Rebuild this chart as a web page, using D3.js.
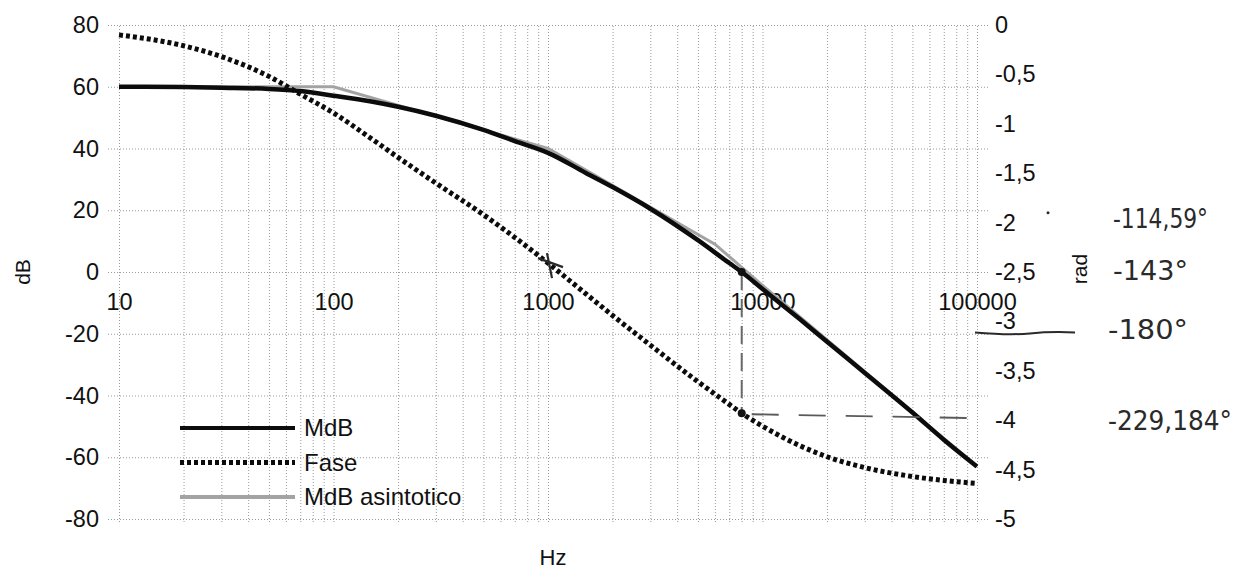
<!DOCTYPE html>
<html>
<head>
<meta charset="utf-8">
<script src="https://cdn.jsdelivr.net/npm/d3@7"></script>
<style>
	body { margin: 0; background: #fff; }
	svg text { font-family: 'Liberation Sans', Arial, sans-serif; fill: #111; }
	.grid line { stroke: #9a9a9a; stroke-width: 1; stroke-dasharray: 1,2; }
	.grid path { display: none; }
</style>
</head>
<body>
<div id="chart"></div>
<script>
// values
const frequencies = [10, 20, 30, 50, 70, 100, 150, 200, 300, 500, 700, 1000, 1500, 2000, 3000, 5000, 7000, 8000, 10000, 15000, 20000, 30000, 50000, 70000, 100000]
const magnitudeDb = [60.0, 59.9, 59.7, 59.3, 58.6, 57.1, 55.2, 53.5, 50.6, 46.0, 42.4, 38.6, 32.1, 27.5, 20.5, 10.3, 2.9, 0.0, -5.5, -15.4, -22.6, -32.7, -45.5, -54.3, -63.0]
const phaseRad = [-0.10, -0.21, -0.32, -0.52, -0.70, -0.89, -1.15, -1.34, -1.60, -1.92, -2.15, -2.41, -2.72, -2.94, -3.24, -3.61, -3.84, -3.93, -4.06, -4.26, -4.37, -4.48, -4.57, -4.61, -4.64]

const asymptoteFreq = [10, 100, 1000, 6000, 10000, 100000]
const asymptoteDb = [60, 60, 40, 9, -4.3, -63]

const seriesNames = ['MdB', 'Fase', 'MdB asintotico']

const dbTicks = [-80, -60, -40, -20, 0, 20, 40, 60, 80]
const radTicks = [-5, -4.5, -4, -3.5, -3, -2.5, -2, -1.5, -1, -0.5, 0]
const decadeTicks = [10, 100, 1000, 10000, 100000]

// pen marks written on the printout
const crossoverFreq = 8000
const crossoverPhase = -3.93
const markedFreq = 1000
const markedPhase = -2.41
const noteRad = [-2, -2.5, -3, -4]
const noteText = ['-114,59°', '-143°', '-180°', '-229,184°']

class BodeChart {
	constructor(params) {
		this.attrs = Object.assign(
			{
				container: '#chart',
				width: 1248,
				height: 571,
				plot: { left: 119, right: 977, top: 25, bottom: 519 },
				colors: {
					magnitude: '#0c0c0c',
					phase: '#0c0c0c',
					asymptote: '#a3a3a3',
					pen: '#2a2a2a',
				},
			},
			params
		)
		this.main()
	}

	main() {
		const { attrs } = this
		const p = attrs.plot

		this.x = d3.scaleLog().domain([10, 100000]).range([p.left, p.right])
		this.yDb = d3.scaleLinear().domain([-80, 80]).range([p.bottom, p.top])
		this.yRad = d3.scaleLinear().domain([-5, 0]).range([p.bottom, p.top])

		this.svg = d3.select(attrs.container)
			.append('svg')
			.attr('width', attrs.width)
			.attr('height', attrs.height)

		this.drawGrid()
		this.drawAxes()
		this.drawSeries()
		this.drawLegend()
		this.drawPenNotes()
	}

	drawGrid() {
		const { x, yDb, svg, attrs } = this
		const p = attrs.plot

		svg.append('g')
			.attr('class', 'grid')
			.attr('transform', `translate(0,${p.bottom + 3})`)
			.call(d3.axisBottom(x).tickValues(x.ticks()).tickSize(-(p.bottom - p.top + 3)).tickFormat(''))

		// horizontal lines run a bit past the plot on both sides (tick marks)
		this.leftAxis = svg.append('g')
			.attr('class', 'grid')
			.attr('transform', `translate(${p.left - 11},0)`)
			.call(d3.axisLeft(yDb).tickValues(dbTicks).tickSize(-(p.right - p.left + 24)).tickPadding(9).tickFormat(d => String(d)))
	}

	drawAxes() {
		const { x, yDb, yRad, svg, attrs } = this
		const p = attrs.plot
		const font = '23.5px'

		this.leftAxis.selectAll('text')
			.style('font-size', font)

		svg.append('g')
			.attr('transform', `translate(${p.right},0)`)
			.call(d3.axisRight(yRad).tickValues(radTicks).tickSize(0).tickPadding(18)
				.tickFormat(d => String(d).replace('.', ',')))
			.call(g => g.select('.domain').remove())
			.selectAll('text')
			.style('font-size', font)

		svg.append('g')
			.attr('transform', `translate(0,${yDb(0)})`)
			.call(d3.axisBottom(x).tickValues(decadeTicks).tickSize(0).tickPadding(21).tickFormat(d => String(d)))
			.call(g => g.select('.domain').remove())
			.selectAll('text')
			.style('font-size', font)

		svg.append('text')
			.attr('transform', `translate(23,${yDb(0)}) rotate(-90)`)
			.attr('text-anchor', 'middle')
			.attr('dy', '0.35em')
			.style('font-size', '21px')
			.text('dB')

		svg.append('text')
			.attr('transform', `translate(1080,${yRad(-2.5) - 3}) rotate(-90)`)
			.attr('text-anchor', 'middle')
			.attr('dy', '0.35em')
			.style('font-size', '21px')
			.text('rad')

		svg.append('text')
			.attr('x', (p.left + p.right) / 2 + 5)
			.attr('y', 557)
			.attr('text-anchor', 'middle')
			.attr('dy', '0.35em')
			.style('font-size', '22px')
			.text('Hz')
	}

	drawSeries() {
		const { x, yDb, yRad, svg, attrs } = this

		const asymptote = asymptoteFreq.map((f, i) => ({ f, v: asymptoteDb[i] }))
		const magnitude = frequencies.map((f, i) => ({ f, v: magnitudeDb[i] }))
		const phase = frequencies.map((f, i) => ({ f, v: phaseRad[i] }))

		svg.append('path')
			.datum(asymptote)
			.attr('fill', 'none')
			.attr('stroke', attrs.colors.asymptote)
			.attr('stroke-width', 3)
			.attr('d', d3.line().x(d => x(d.f)).y(d => yDb(d.v)))

		svg.append('path')
			.datum(magnitude)
			.attr('fill', 'none')
			.attr('stroke', attrs.colors.magnitude)
			.attr('stroke-width', 4.5)
			.attr('d', d3.line().curve(d3.curveMonotoneX).x(d => x(d.f)).y(d => yDb(d.v)))

		svg.append('path')
			.datum(phase)
			.attr('fill', 'none')
			.attr('stroke', attrs.colors.phase)
			.attr('stroke-width', 5)
			.attr('stroke-dasharray', '4,3')
			.attr('d', d3.line().curve(d3.curveMonotoneX).x(d => x(d.f)).y(d => yRad(d.v)))
	}

	drawLegend() {
		const { svg, attrs } = this
		const styles = [
			{ color: attrs.colors.magnitude, width: 4, dash: null },
			{ color: attrs.colors.phase, width: 5, dash: '4,3' },
			{ color: attrs.colors.asymptote, width: 4, dash: null },
		]

		const rows = svg.append('g')
			.selectAll('g')
			.data(seriesNames)
			.join('g')
			.attr('transform', (d, i) => `translate(180,${428 + i * 34.5})`)

		rows.append('line')
			.attr('x1', 0)
			.attr('x2', 115)
			.attr('stroke', (d, i) => styles[i].color)
			.attr('stroke-width', (d, i) => styles[i].width)
			.attr('stroke-dasharray', (d, i) => styles[i].dash)

		rows.append('text')
			.attr('x', 124)
			.attr('dy', '0.35em')
			.style('font-size', '24px')
			.text(d => d)
	}

	drawPenNotes() {
		const { x, yDb, yRad, svg, attrs } = this
		const pen = attrs.colors.pen
		const cx = x(crossoverFreq)

		// dashed drop from the 0 dB crossing to the phase curve
		svg.append('line')
			.attr('x1', cx).attr('x2', cx)
			.attr('y1', yDb(0)).attr('y2', yRad(crossoverPhase))
			.attr('stroke', '#6a6a6a')
			.attr('stroke-width', 2)
			.attr('stroke-dasharray', '18,9')

		svg.append('line')
			.attr('x1', cx + 10).attr('x2', x(100000) + 4)
			.attr('y1', yRad(crossoverPhase - 0.01)).attr('y2', yRad(crossoverPhase - 0.05))
			.attr('stroke', '#5a5a5a')
			.attr('stroke-width', 1.8)
			.attr('stroke-dasharray', '27,20')

		svg.selectAll('.pen-dot')
			.data([yDb(0), yRad(crossoverPhase)])
			.join('circle')
			.attr('class', 'pen-dot')
			.attr('cx', cx)
			.attr('cy', d => d)
			.attr('r', 4)
			.attr('fill', '#111')

		// cross drawn on the phase at 1000 Hz
		const mx = x(markedFreq) + 2
		const my = yRad(markedPhase)
		svg.append('path')
			.attr('d', `M${mx - 12},${my - 5}L${mx + 13},${my + 4}M${mx - 3},${my - 10}L${mx + 2},${my + 15}`)
			.attr('stroke', pen)
			.attr('stroke-width', 2.2)
			.attr('fill', 'none')

		// underline next to -3 rad
		const uy = yRad(-3) + 11
		svg.append('path')
			.attr('d', `M975,${uy}Q1010,${uy + 3} 1030,${uy + 1}T1075,${uy}`)
			.attr('stroke', pen)
			.attr('stroke-width', 2)
			.attr('fill', 'none')

		svg.append('circle')
			.attr('cx', 1048).attr('cy', yRad(-1.9))
			.attr('r', 1.5)
			.attr('fill', pen)

		const noteX = [1113, 1113, 1108, 1108]
		const noteDy = [-4, -1, 8, 0]
		const noteW = [95, 75, 80, 124]

		svg.selectAll('.deg-note')
			.data(noteText)
			.join('text')
			.attr('class', 'deg-note')
			.attr('x', (d, i) => noteX[i])
			.attr('y', (d, i) => yRad(noteRad[i]) + noteDy[i])
			.attr('dy', '0.36em')
			.attr('textLength', (d, i) => noteW[i])
			.attr('lengthAdjust', 'spacingAndGlyphs')
			.style('font-family', "'DejaVu Sans', sans-serif")
			.style('font-size', '26px')
			.style('fill', pen)
			.text(d => d)
	}
}

new BodeChart({})
</script>
</body>
</html>
